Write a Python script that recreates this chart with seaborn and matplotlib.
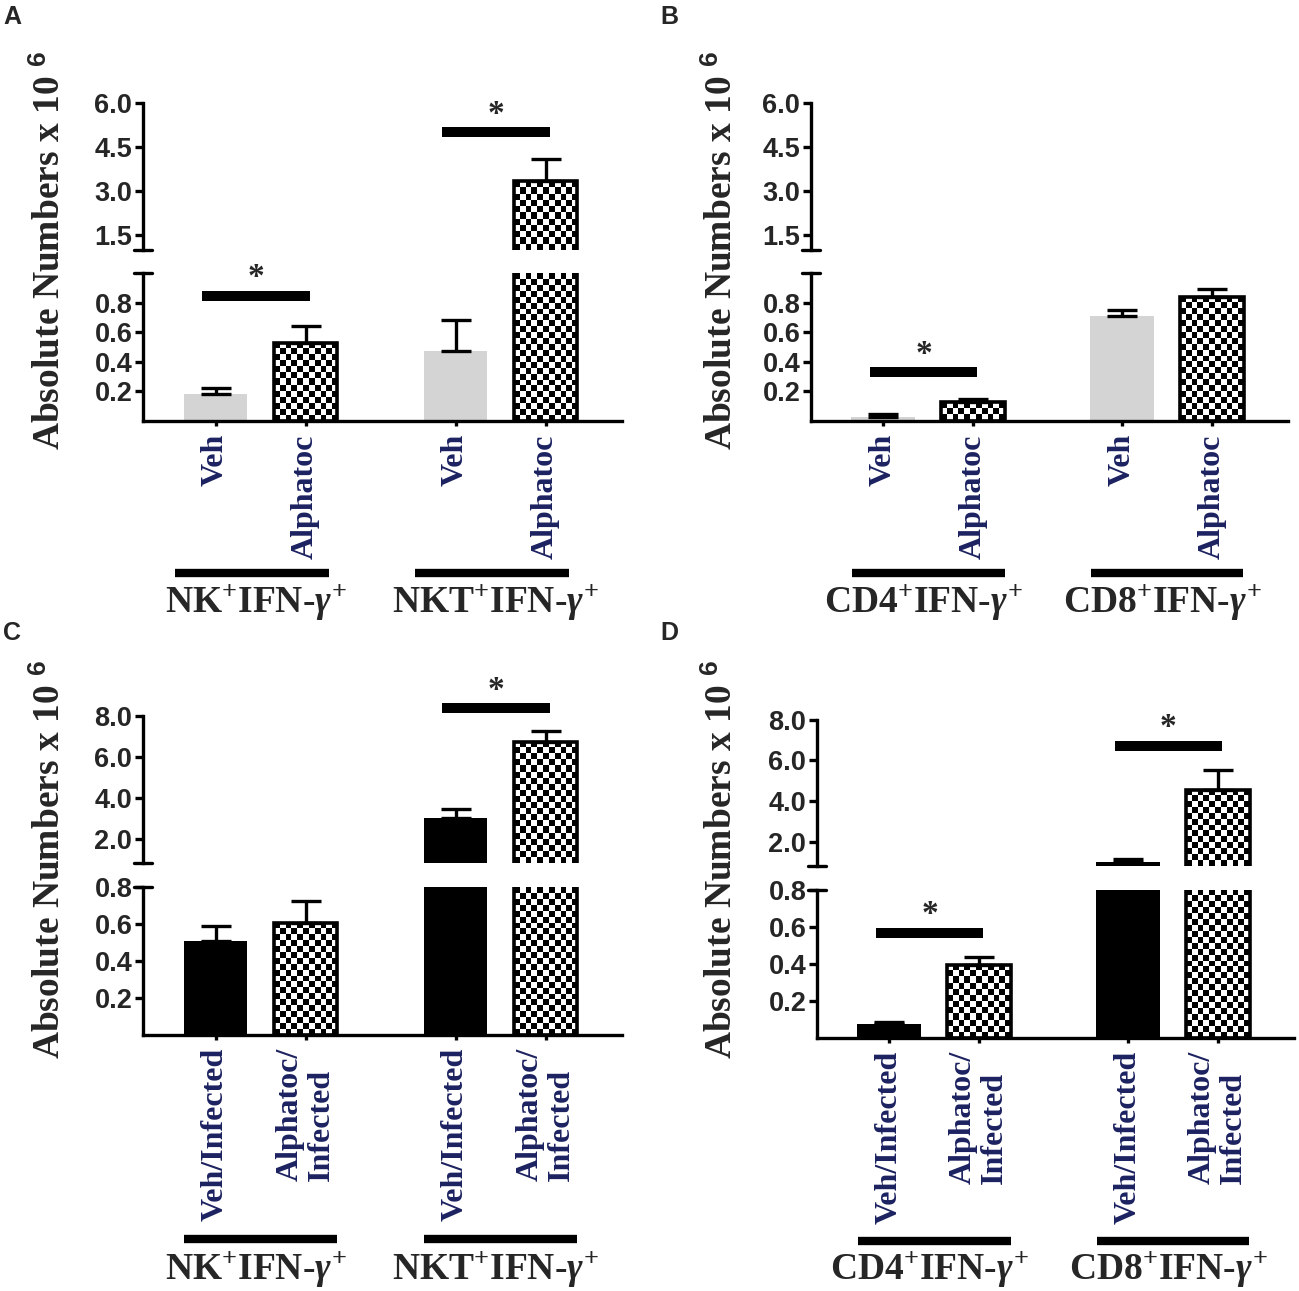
import numpy as np
import pandas as pd
import matplotlib
matplotlib.use('Agg')
import matplotlib.pyplot as plt
import matplotlib.transforms as mtransforms
from matplotlib.colors import ListedColormap
import seaborn as sns

# ---- data (absolute numbers x 10^6), order: group1 Veh, group1 Alpha, group2 Veh, group2 Alpha ----
a_groups = ['NK', 'NKT']
a_treatments = ['Veh', 'Alphatoc']
a_means = [0.18, 0.53, 0.47, 3.34]
a_sems = [0.04, 0.11, 0.21, 0.76]
a_group_labels = [r'NK$^{+}$IFN-$\gamma^{+}$', r'NKT$^{+}$IFN-$\gamma^{+}$']
a_sig_groups = [0, 1]
a_sig_y = [0.845, 5.0]

b_groups = ['CD4', 'CD8']
b_treatments = ['Veh', 'Alphatoc']
b_means = [0.03, 0.13, 0.71, 0.84]
b_sems = [0.015, 0.02, 0.04, 0.05]
b_group_labels = [r'CD4$^{+}$IFN-$\gamma^{+}$', r'CD8$^{+}$IFN-$\gamma^{+}$']
b_sig_groups = [0]
b_sig_y = [0.33]

c_groups = ['NK', 'NKT']
c_treatments = ['Veh/Infected', 'Alphatoc/\nInfected']
c_means = [0.51, 0.607, 3.01, 6.72]
c_sems = [0.08, 0.12, 0.45, 0.55]
c_group_labels = a_group_labels
c_sig_groups = [1]
c_sig_y = [8.37]

d_groups = ['CD4', 'CD8']
d_treatments = c_treatments
d_means = [0.076, 0.397, 1.0, 4.55]
d_sems = [0.011, 0.043, 0.12, 0.98]
d_group_labels = b_group_labels
d_sig_groups = [0, 1]
d_sig_y = [0.57, 6.7]

ab_top_lim = (1.0, 6.0)
ab_bot_lim = (0.0, 1.0)
ab_top_ticks = [1.5, 3.0, 4.5, 6.0]
cd_top_lim = (0.8, 8.0)
cd_bot_lim = (0.0, 0.8)
cd_top_ticks = [2.0, 4.0, 6.0, 8.0]
bot_ticks = [0.2, 0.4, 0.6, 0.8]

W, H = 1299, 1291
NAVY = '#1c2260'

sns.set_style('ticks')
plt.rcParams['font.family'] = ['Liberation Serif', 'DejaVu Serif']
plt.rcParams['mathtext.fontset'] = 'custom'
plt.rcParams['mathtext.rm'] = 'Liberation Serif:bold'
plt.rcParams['mathtext.it'] = 'Liberation Serif:italic:bold'
plt.rcParams['mathtext.bf'] = 'Liberation Serif:bold'
plt.rcParams['mathtext.sf'] = 'Liberation Sans:bold'

fig = plt.figure(figsize=(W / 100, H / 100), dpi=100)


def px_rect(left, top, right, bottom):
    return [left / W, 1 - bottom / H, (right - left) / W, (bottom - top) / H]


def checker_fill(ax, patch, cell=6):
    # checkerboard pattern clipped to the visible part of a bar
    patch.set_facecolor('none')
    patch.set_edgecolor('black')
    patch.set_linewidth(2.6)
    patch.set_zorder(3)
    y_lo, y_hi = ax.get_ylim()
    x0, x1 = patch.get_x(), patch.get_x() + patch.get_width()
    y0, y1 = max(0, y_lo), min(patch.get_height(), y_hi)
    if y1 <= y0:
        patch.set_visible(False)
        return
    p0, p1 = ax.transData.transform([[x0, y0], [x1, y1]])
    nx = max(1, int(round((p1[0] - p0[0]) / cell)))
    ny = max(1, int(round((p1[1] - p0[1]) / cell)))
    arr = np.add.outer(np.arange(ny), np.arange(nx)) % 2
    ax.imshow(arr, extent=(x0, x1, y0, y1), cmap=ListedColormap(['black', 'white']),
              vmin=0, vmax=1, interpolation='nearest', aspect='auto', origin='lower', zorder=2)


def draw_panel(top_px, bot_px, groups, treatments, means, sems, veh_color,
               top_lim, bot_lim, top_ticks, group_labels, sig_groups, sig_y,
               line_y, label_y, line_shift):
    ax_t = fig.add_axes(px_rect(*top_px))
    ax_b = fig.add_axes(px_rect(*bot_px))
    df = pd.DataFrame({'group': np.repeat(groups, 2),
                       'treatment': list(treatments) * 2,
                       'value': means})
    xlim = (-0.491, 1.505)
    for ax, lim in ((ax_t, top_lim), (ax_b, bot_lim)):
        sns.barplot(data=df, x='group', y='value', hue='treatment', order=groups,
                    hue_order=treatments, palette=[veh_color, 'white'], saturation=1,
                    width=0.75, gap=0.29, errorbar=None, legend=False, linewidth=0, ax=ax)
        ax.set_xlim(*xlim)
        ax.set_ylim(*lim)
        bars = sorted(ax.patches, key=lambda p: p.get_x())
        centers = [p.get_x() + p.get_width() / 2 for p in bars]
        for i, p in enumerate(bars):
            if i % 2 == 1:
                checker_fill(ax, p)
        ax.set_xlim(*xlim)
        ax.set_ylim(*lim)
        # only the error bars whose cap falls inside this segment of the broken axis
        keep = [i for i in range(len(means)) if lim[0] < means[i] + sems[i] <= lim[1]]
        if keep:
            ax.errorbar([centers[i] for i in keep], [means[i] for i in keep],
                        yerr=[np.zeros(len(keep)), [sems[i] for i in keep]], fmt='none',
                        ecolor='black', elinewidth=2.4, capsize=10.5, capthick=2.4, zorder=4)
        for s in ('top', 'right'):
            ax.spines[s].set_visible(False)
        for s in ('left', 'bottom'):
            ax.spines[s].set_linewidth(2.4)
            ax.spines[s].set_color('black')
        ax.set_xlabel('')
        ax.set_ylabel('')
        ax.tick_params(axis='y', length=5.5, width=2.4, color='black', pad=2)
        ax.set_facecolor('none')

    ax_t.set_yticks(top_ticks)
    ax_t.set_yticklabels([f'{t:.1f}' for t in top_ticks], fontsize=19.5,
                         fontweight='bold', family='Liberation Sans')
    ax_t.spines['bottom'].set_visible(False)
    ax_t.tick_params(axis='x', bottom=False, labelbottom=False)

    ax_b.set_yticks(bot_ticks)
    ax_b.set_yticklabels([f'{t:.1f}' for t in bot_ticks], fontsize=19.5,
                         fontweight='bold', family='Liberation Sans')
    ax_b.set_xticks(centers)
    ax_b.set_xticklabels(list(treatments) * 2, rotation=90, fontsize=23,
                         fontweight='bold', color=NAVY, linespacing=1.1)
    for lbl in ax_b.get_xticklabels():
        lbl.set_multialignment('left')
    ax_b.tick_params(axis='x', length=3.5, width=2.4, color='black', pad=6)

    # break marks on the y axis
    d = 9 / (bot_px[2] - bot_px[0])
    ax_t.plot([-d, d], [0, 0], transform=ax_t.transAxes, color='black', lw=2.4, clip_on=False)
    ax_b.plot([-d, d], [1, 1], transform=ax_b.transAxes, color='black', lw=2.4, clip_on=False)

    # significance bars
    for g, y in zip(sig_groups, sig_y):
        ax = ax_b if y < bot_lim[1] else ax_t
        x0 = centers[2 * g] - 0.055
        x1 = centers[2 * g + 1] + 0.017
        ax.plot([x0, x1], [y, y], color='black', lw=7.2, solid_capstyle='butt', clip_on=False)
        ax.annotate('*', xy=((x0 + x1) / 2, y), xytext=(0, 13), textcoords='offset points',
                    ha='center', va='center', fontsize=24, fontweight='bold',
                    annotation_clip=False)

    # group underline and label
    trans = mtransforms.blended_transform_factory(ax_b.transData, ax_b.transAxes)
    for g, lab in enumerate(group_labels):
        gc = (centers[2 * g] + centers[2 * g + 1]) / 2
        ax_b.plot([gc - 0.32 + line_shift, gc + 0.32 + line_shift], [line_y, line_y],
                  transform=trans, color='black', lw=6, solid_capstyle='butt', clip_on=False)
        ax_b.text(gc - 0.02, label_y, lab, transform=trans, ha='center', va='baseline',
                  fontsize=27, fontweight='bold')
    return ax_t, ax_b


draw_panel((142.7, 102.7, 621.7, 250), (142.7, 273, 621.7, 421), a_groups, a_treatments,
           a_means, a_sems, '#d4d4d4', ab_top_lim, ab_bot_lim, ab_top_ticks,
           a_group_labels, a_sig_groups, a_sig_y, -1.03, -1.29, -0.035)
draw_panel((810.7, 102.7, 1287.7, 250), (810.7, 273, 1287.7, 421), b_groups, b_treatments,
           b_means, b_sems, '#d4d4d4', ab_top_lim, ab_bot_lim, ab_top_ticks,
           b_group_labels, b_sig_groups, b_sig_y, -1.03, -1.29, 0.0)
draw_panel((142.7, 715.7, 621.7, 863.3), (142.7, 887.3, 621.7, 1035), c_groups, c_treatments,
           c_means, c_sems, 'black', cd_top_lim, cd_bot_lim, cd_top_ticks,
           c_group_labels, c_sig_groups, c_sig_y, -1.38, -1.65, 0.0)
draw_panel((816.7, 719.5, 1293.7, 866), (816.7, 890, 1293.7, 1038), d_groups, d_treatments,
           d_means, d_sems, 'black', cd_top_lim, cd_bot_lim, cd_top_ticks,
           d_group_labels, d_sig_groups, d_sig_y, -1.37, -1.63, 0.0)

ylab = 'Absolute Numbers x 10 $^{\\mathsf{6}}$'
for x, y in ((50, 250), (722, 250), (50, 859), (722, 859)):
    fig.text(x / W, 1 - y / H, ylab, rotation=90, ha='center', va='center',
             fontsize=27, fontweight='bold')

for letter, x, y in (('A', 3, 5), ('B', 660, 5), ('C', 3, 621), ('D', 660, 621)):
    fig.text(x / W, 1 - y / H, letter, ha='left', va='top', fontsize=18,
             fontweight='bold', family='Liberation Sans')

fig.savefig('out.png', dpi=100)
